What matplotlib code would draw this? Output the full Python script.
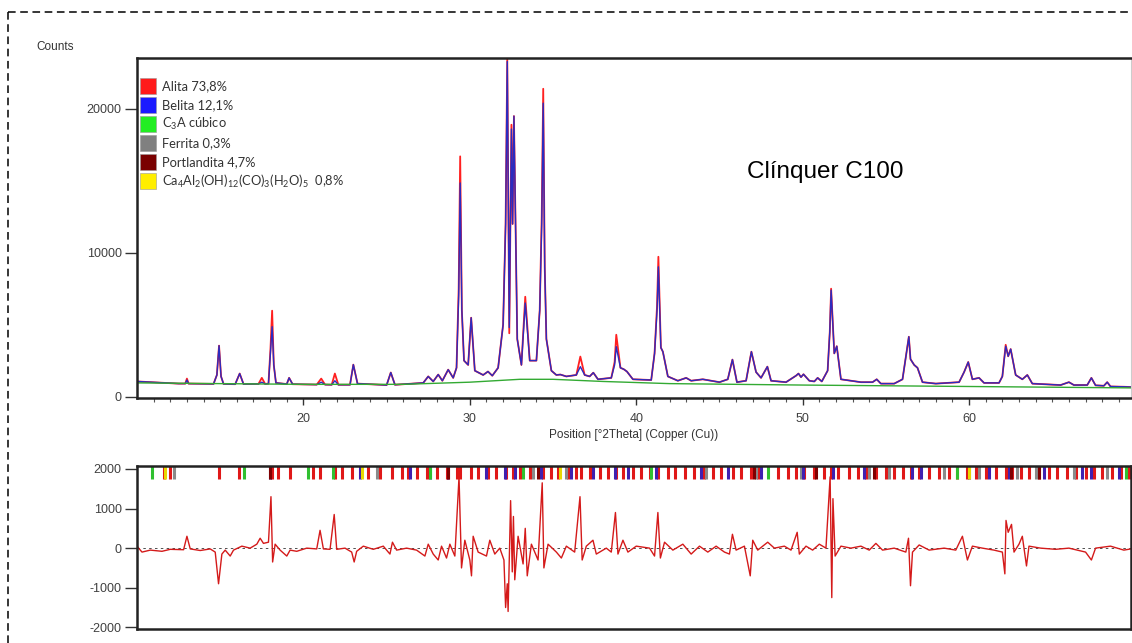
import numpy as np
import matplotlib
matplotlib.use('Agg')
import matplotlib.pyplot as plt
from matplotlib.patches import Rectangle
from matplotlib.lines import Line2D

plt.rcParams['font.family'] = ['Liberation Sans', 'DejaVu Sans']
plt.rcParams['axes.unicode_minus'] = False
plt.rcParams['mathtext.fontset'] = 'custom'
plt.rcParams['mathtext.rm'] = 'Lato'
plt.rcParams['mathtext.it'] = 'Lato:italic'
plt.rcParams['mathtext.bf'] = 'Lato:bold'

tth = [10.0, 12.5, 12.9, 13.0, 13.1, 14.6, 14.8, 14.93, 15.05, 15.2, 15.9, 16.17, 16.4, 17.3,
       17.5, 17.7, 17.9, 18.02, 18.12, 18.22, 18.35, 19.0, 19.14, 19.35, 20.8, 21.07, 21.3,
       21.7, 21.89, 22.1, 22.8, 23.0, 23.25, 25.0, 25.25, 25.5, 27.2, 27.5, 27.8, 28.1,
       28.35, 28.7, 29.0, 29.2, 29.33, 29.42, 29.52, 29.65, 29.9, 30.08, 30.3, 30.8, 31.09,
       31.35, 31.7, 32.0, 32.15, 32.25, 32.37, 32.5, 32.57, 32.65, 32.85, 33.1, 33.33, 33.6,
       34.0, 34.2, 34.32, 34.41, 34.5, 34.6, 34.9, 35.2, 35.44, 35.8, 36.4, 36.64, 36.9,
       37.2, 37.42, 37.7, 38.5, 38.7, 38.8, 39.05, 39.25, 39.44, 39.8, 40.9, 41.1, 41.25,
       41.33, 41.48, 41.6, 41.9, 42.5, 43.0, 43.3, 44.0, 44.5, 45.0, 45.5, 45.78, 46.05,
       46.6, 46.92, 47.2, 47.5, 47.88, 48.1, 49.0, 49.6, 49.75, 49.9, 50.05, 50.4, 50.7,
       50.9, 51.15, 51.5, 51.63, 51.71, 51.9, 52.05, 52.3, 53.5, 54.2, 54.45, 54.7, 55.5,
       56.0, 56.38, 56.48, 56.7, 56.9, 57.2, 58.0, 59.4, 59.7, 59.95, 60.2, 60.6, 60.9,
       61.8, 62.0, 62.2, 62.35, 62.5, 62.8, 63.2, 63.5, 63.8, 65.5, 66.0, 66.3, 67.1,
       67.35, 67.6, 68.1, 68.3, 68.5, 69.3, 70.0]
obs = [1050, 900, 900, 1150, 900, 880, 1500, 3540, 1400, 880, 860, 1600, 870, 880,
       1000, 880, 900, 3000, 4860, 2200, 950, 870, 1300, 860, 830, 1000, 830,
       820, 1100, 820, 820, 2220, 900, 800, 1670, 820, 950, 1400, 1050, 1530,
       1100, 1870, 1300, 2000, 7000, 14850, 6000, 2500, 2200, 5480, 1800, 1500, 1740,
       1450, 2000, 5000, 12000, 23300, 4800, 18600, 12000, 19500, 4000, 2200, 6500, 2500,
       2500, 6000, 12000, 20400, 9000, 4000, 1800, 1500, 1530, 1400, 1500, 2080, 1500,
       1400, 1660, 1200, 1300, 2200, 3470, 2000, 1900, 1740, 1200, 1150, 3000, 6000,
       9020, 3400, 3120, 1400, 1100, 1300, 1100, 1200, 1100, 1000, 1200, 2570, 1000,
       1100, 3120, 1700, 1300, 2080, 1100, 1000, 1450, 1600, 1350, 1550, 1100, 1050,
       1300, 1050, 1800, 4500, 7400, 3000, 3500, 1200, 1000, 1000, 1200, 900, 900,
       1200, 4160, 2600, 2200, 2000, 1000, 900, 1000, 1700, 2400, 1200, 1300, 950,
       950, 1400, 3500, 2800, 3300, 1500, 1200, 1500, 900, 800, 1000, 800, 800,
       1300, 780, 750, 1000, 700, 680, 650]
calc = [1050, 900, 900, 1250, 900, 880, 1500, 3540, 1400, 880, 860, 1600, 870, 880,
        1300, 880, 900, 3300, 5970, 2200, 950, 870, 1300, 860, 830, 1250, 830,
        820, 1600, 820, 820, 2220, 900, 800, 1670, 820, 950, 1400, 1050, 1530,
        1100, 1870, 1300, 2000, 7500, 16700, 6000, 2500, 2200, 5480, 1800, 1500, 1740,
        1450, 2000, 5000, 12000, 23500, 4400, 18900, 12000, 19500, 4000, 2200, 6940, 2500,
        2500, 6000, 12500, 21400, 9000, 4000, 1800, 1500, 1530, 1400, 1500, 2780, 1500,
        1400, 1660, 1200, 1300, 2400, 4300, 2000, 1900, 1740, 1200, 1150, 3000, 6300,
        9720, 3400, 3120, 1400, 1100, 1300, 1100, 1200, 1100, 1000, 1200, 2570, 1000,
        1100, 3120, 1700, 1300, 2080, 1100, 1000, 1450, 1600, 1350, 1550, 1100, 1050,
        1300, 1050, 1800, 4500, 7500, 3000, 3500, 1200, 1000, 1000, 1200, 900, 900,
        1200, 4160, 2600, 2200, 2000, 1000, 900, 1000, 1700, 2400, 1200, 1300, 950,
        950, 1400, 3600, 2800, 3300, 1500, 1200, 1500, 900, 800, 1000, 800, 800,
        1300, 780, 750, 1000, 700, 680, 650]

# background
bg_x = [10, 20, 26, 30, 33, 35, 38, 42, 50, 60, 70]
bg_y = [950, 850, 850, 1000, 1200, 1200, 1050, 900, 800, 700, 600]

# difference curve
diff_x = [10.0, 10.3, 10.8, 11.5, 12.0, 12.8, 13.0, 13.2, 13.8, 14.4, 14.7, 14.9, 15.1, 15.3,
          15.6, 15.8, 16.3, 16.8, 17.2, 17.4, 17.6, 17.9, 18.05, 18.15, 18.3, 18.6, 19.0,
          19.2, 19.6, 20.2, 20.8, 21.0, 21.2, 21.6, 21.85, 22.0, 22.5, 22.9, 23.05, 23.2,
          23.6, 24.2, 24.8, 25.2, 25.35, 25.6, 26.2, 26.8, 27.3, 27.5, 27.8, 28.1, 28.3,
          28.6, 28.8, 29.1, 29.35, 29.5, 29.7, 30.0, 30.1, 30.2, 30.5, 31.0, 31.2, 31.5,
          31.8, 32.05, 32.15, 32.25, 32.3, 32.45, 32.55, 32.62, 32.7, 32.9, 33.2, 33.33,
          33.45, 33.7, 34.1, 34.35, 34.45, 34.7, 35.2, 35.5, 35.8, 36.3, 36.62, 36.75,
          37.0, 37.4, 37.6, 38.2, 38.5, 38.75, 38.9, 39.2, 39.5, 40.0, 40.8, 41.1, 41.3,
          41.45, 41.7, 42.2, 42.8, 43.3, 43.8, 44.3, 44.8, 45.3, 45.6, 45.78, 46.0, 46.5,
          46.85, 47.0, 47.3, 47.9, 48.3, 48.9, 49.3, 49.67, 49.8, 50.2, 50.6, 51.0, 51.4,
          51.65, 51.75, 51.82, 51.95, 52.3, 52.9, 53.5, 54.0, 54.4, 54.8, 55.5, 56.2,
          56.36, 56.48, 56.6, 57.0, 57.6, 58.5, 59.2, 59.6, 59.9, 60.2, 60.8, 61.5, 62.0,
          62.15, 62.22, 62.35, 62.55, 62.7, 63.0, 63.2, 63.45, 63.6, 64.3, 65.2, 66.0,
          67.0, 67.35, 67.6, 68.5, 69.3, 70.0]
diff_y = [50, -100, -50, -80, -30, -40, 300, -20, -60, -20, -100, -900, -150, -50,
          -200, -50, 50, 0, 100, 250, 120, 150, 1300, -350, 100, -50, -200,
          -50, -80, 0, -20, 450, -20, -30, 850, -30, 0, -100, -350, -80,
          50, -30, 50, -150, 150, -50, 0, -50, -200, 100, -150, -300, 50,
          -250, 100, -200, 1800, -500, 200, -300, -700, 300, -100, -200, 200, -150,
          0, -300, -1500, -900, -1600, 1200, -600, 800, -800, 300, -400, 500,
          -700, 100, -300, 1650, -500, 100, -100, -250, 50, -100, 1300, -300,
          50, 200, -150, 0, -100, 900, -150, 200, -100, 50, 0, -200, 900,
          -250, 150, -50, 100, -150, 50, -100, 50, -100, -150, 350, -50, 50,
          -700, 200, -50, 150, 0, 50, -50, 400, -150, 50, -50, 100, 0,
          1800, -1250, 1250, -200, 50, 0, 50, -50, 120, -50, 0, -100,
          250, -950, -100, 80, -50, 0, -50, 300, -300, 50, 0, -50, -100,
          -650, 700, 400, 600, -100, 100, 300, -450, 50, 0, -30, 0,
          -100, -300, 0, 50, -50, 0]

# reference reflection positions per phase (strip on top of difference plot)
alita_pos = [11.6, 12.0, 14.9, 16.1, 18.1, 18.5, 19.2, 20.6, 21.0, 21.9, 22.3, 22.9, 23.9, 24.6,
             25.3, 25.9, 26.3, 26.8, 27.4, 28.0, 28.6, 29.2, 29.4, 30.1, 30.5, 31.1, 31.6, 32.2,
             32.6, 33.0, 33.6, 34.4, 34.9, 35.3, 35.9, 36.4, 36.7, 37.2, 37.8, 38.3, 38.8, 39.2,
             39.8, 40.3, 40.8, 41.3, 41.9, 42.3, 42.9, 43.5, 44.1, 44.6, 45.1, 45.8, 46.3, 46.9,
             47.3, 48.5, 49.1, 49.6, 50.1, 50.7, 51.3, 51.7, 52.1, 52.8, 53.3, 53.8, 54.4, 55.0,
             55.5, 56.0, 56.5, 57.0, 57.6, 58.2, 58.8, 59.3, 59.9, 60.4, 61.0, 61.6, 62.2, 62.6,
             63.1, 63.6, 64.2, 64.8, 65.3, 65.9, 66.4, 67.0, 67.5, 68.0, 68.6, 69.1, 69.6]
belita_pos = [18.0, 23.4, 26.4, 27.6, 28.7, 31.0, 32.1, 32.7, 34.3, 36.1, 37.4, 38.7, 39.5,
              41.2, 43.9, 45.5, 47.5, 50.0, 51.8, 53.7, 56.6, 57.1, 60.0, 61.2, 62.4, 64.5,
              66.8, 67.3, 69.0]
c3a_pos = [10.9, 16.4, 20.3, 21.8, 27.6, 33.2, 40.9, 47.9, 59.3, 69.4]
ferrita_pos = [12.2, 24.4, 33.8, 35.8, 44.2, 47.2, 49.9, 54.0, 55.2, 58.5, 60.6, 62.9, 64.0,
               66.3, 68.3]
portl_pos = [18.0, 28.7, 34.1, 47.1, 50.8, 54.3, 62.5, 64.2]
carbo_pos = [11.7, 23.5, 35.4, 60.0]

legend_labels = ['Alita 73,8%', 'Belita 12,1%', 'C$_3$A cúbico', 'Ferrita 0,3%',
                 'Portlandita 4,7%', 'Ca$_4$Al$_2$(OH)$_{12}$(CO)$_3$(H$_2$O)$_5$  0,8%']
legend_colors = ['#ff1a1a', '#1a1aff', '#22ee22', '#808080', '#7a0000', '#ffee00']

W, H = 1132, 643
fig = plt.figure(figsize=(W / 100, H / 100), dpi=100)


def px_rect(x0, y0, x1, y1):
    return [x0 / W, 1 - y1 / H, (x1 - x0) / W, (y1 - y0) / H]


tick_col = '#404040'

# top panel
ax = fig.add_axes(px_rect(137, 58, 1131, 398))
ax.plot(tth, calc, color='#ff2020', lw=1.3)
ax.plot(tth, obs, color='#2b2bc0', lw=1.0)
ax.plot(bg_x, bg_y, color='#33aa33', lw=1.0)
ax.set_xlim(10, 69.73)
ax.set_ylim(-100, 23540)
ax.set_yticks([0, 10000, 20000])
ax.set_xticks([20, 30, 40, 50, 60])
ax.set_xticks(np.arange(11, 70, 1), minor=True)
ax.tick_params(axis='y', which='major', direction='out', length=9, width=1.0, pad=2,
               labelsize=9, labelcolor=tick_col, color='#333333')
ax.tick_params(axis='x', which='major', direction='out', length=5, width=1.0, pad=6,
               labelsize=9, labelcolor=tick_col, color='#333333')
ax.tick_params(axis='x', which='minor', direction='out', length=3, width=0.8, color='#555555')
for s in ['left', 'top', 'bottom']:
    ax.spines[s].set_linewidth(1.8)
    ax.spines[s].set_color('#222222')
ax.spines['right'].set_color('#cccccc')
ax.spines['right'].set_linewidth(0.8)
ax.set_xlabel('Position [°2Theta] (Copper (Cu))', fontsize=8.5, color='#333333', labelpad=3)

fig.text(36 / W, 1 - 47 / H, 'Counts', fontsize=8.5, color='#333333', va='center', ha='left')
fig.text(747 / W, 1 - 172 / H, 'Clínquer C100', fontsize=17.5, color='black',
         va='center', ha='left')

# legend drawn as coloured squares
for i, (lab, col) in enumerate(zip(legend_labels, legend_colors)):
    y0 = 78 + i * 19
    fig.add_artist(Rectangle((140 / W, 1 - (y0 + 16) / H), 16 / W, 16 / H,
                             transform=fig.transFigure, facecolor=col,
                             edgecolor='#999999', lw=0.4))
    fig.text(162 / W, 1 - (y0 + 8) / H, lab, fontsize=9.3, color='#333333',
             family=['Lato', 'DejaVu Sans'], va='center', ha='left')

# difference panel
ax2 = fig.add_axes(px_rect(137, 466, 1131, 629))
ax2.axhline(0, color='#333333', lw=0.6, ls=(0, (3, 4)))
ax2.plot(diff_x, diff_y, color='#d41a1a', lw=1.0)
for pos, col in [(alita_pos, '#e01818'), (ferrita_pos, '#8a8a8a'), (belita_pos, '#4020b0'),
                 (c3a_pos, '#30c030'), (portl_pos, '#800000'), (carbo_pos, '#e8d800')]:
    ax2.vlines(pos, 1750, 2075, colors=col, lw=2.2)
ax2.set_xlim(10, 69.73)
ax2.set_ylim(-2043, 2075)
ax2.set_yticks([-2000, -1000, 0, 1000, 2000])
ax2.set_xticks([])
ax2.tick_params(axis='y', direction='out', length=9, width=1.0, pad=2, labelsize=9,
                labelcolor=tick_col, color='#333333')
for s in ax2.spines.values():
    s.set_linewidth(1.8)
    s.set_color('#222222')

# dashed frame of the screenshot
fig.add_artist(Line2D([8 / W, 8 / W], [0, 1 - 12 / H], transform=fig.transFigure,
                      color='black', lw=1.1, ls=(0, (5, 3))))
fig.add_artist(Line2D([8 / W, 1], [1 - 12 / H, 1 - 12 / H], transform=fig.transFigure,
                      color='black', lw=1.1, ls=(0, (5, 3))))

fig.savefig('out.png', dpi=100)
